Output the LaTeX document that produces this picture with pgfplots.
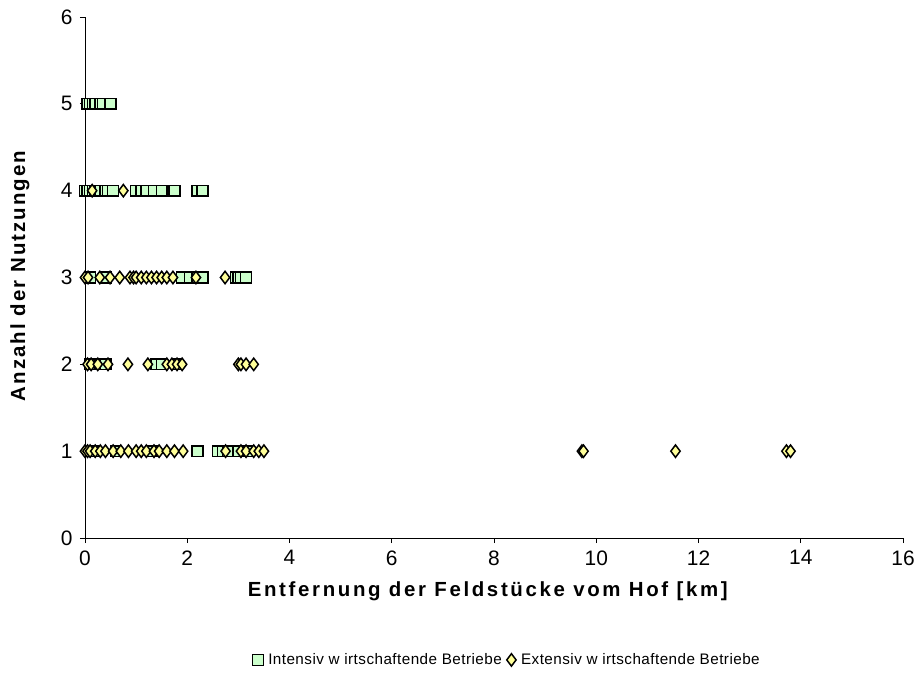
\documentclass[border=0pt]{standalone}
\usepackage{pgfplots}
\pgfplotsset{compat=1.18}
\usepackage{fontspec}
\setmainfont{Liberation Sans}
\definecolor{sqfill}{HTML}{CCFFCC}
\definecolor{dmfill}{HTML}{FFFF99}
\begin{document}
\begin{tikzpicture}
\path[use as bounding box] (-85bp,-152bp) rectangle (835bp,538bp);
\begin{axis}[
  scale only axis,
  width=818bp, height=521bp,
  xmin=0, xmax=16, ymin=0, ymax=6,
  xtick={0,2,...,16}, ytick={0,1,...,6},
  axis lines=left,
  axis line style={-, black, line width=0.8pt},
  tick style={black, line width=0.8pt},
  tick align=outside,
  major tick length=5bp,
  /pgf/number format/assume math mode=true,
  xticklabel style={font=\fontsize{21}{24}\selectfont, yshift=-4bp},
  yticklabel style={font=\fontsize{21}{24}\selectfont, xshift=-4bp},
  xlabel={\textbf{Entfernung der Feldstücke vom Hof [km]}},
  ylabel={\textbf{Anzahl der Nutzungen}},
  every axis x label/.style={at={(rel axis cs:0.494,-0.103)}, anchor=center,
    font=\fontsize{20.5}{23}\selectfont\addfontfeatures{LetterSpace=13}},
  every axis y label/.style={at={(rel axis cs:-0.0795,0.505)}, anchor=center, rotate=90,
    font=\fontsize{20.5}{23}\selectfont\addfontfeatures{LetterSpace=10}},
  legend style={at={(0.516,-0.234)}, anchor=center, draw=none,
    legend columns=2, font=\fontsize{15.3}{18}\selectfont\addfontfeatures{LetterSpace=3},
    /tikz/every odd column/.append style={column sep=3bp},
    /tikz/every even column/.append style={column sep=3bp}},
  clip=false,
]
\addplot[only marks, mark=square*, mark size=5.4bp, mark options={fill=sqfill, draw=black, line width=1.5pt}] coordinates {
(0.05,5)(0.1,5)(0.15,5)(0.2,5)(0.3,5)(0.35,5)(0.5,5)
(0.0,4)(0.05,4)(0.1,4)(0.15,4)(0.2,4)(0.25,4)(0.3,4)(0.4,4)(0.45,4)(0.55,4)(1.0,4)(1.1,4)(1.2,4)(1.35,4)(1.5,4)(1.75,4)(2.2,4)(2.3,4)
(0.1,3)(0.4,3)(1.9,3)(2.05,3)(2.2,3)(2.3,3)(2.95,3)(3.0,3)(3.05,3)(3.15,3)
(0.1,2)(0.3,2)(0.4,2)(1.4,2)(1.5,2)(1.8,2)
(0.2,1)(0.6,1)(1.3,1)(2.2,1)(2.6,1)(2.7,1)(2.8,1)(3.0,1)(3.2,1)
};
\addlegendentry{Intensiv w irtschaftende Betriebe}
\addplot[only marks, mark=diamond*, mark size=6.2bp, mark options={fill=dmfill, draw=black, line width=1.5pt}] coordinates {
(0.14,4)(0.75,4)
(0.0,3)(0.06,3)(0.29,3)(0.49,3)(0.68,3)(0.88,3)(0.95,3)(1.0,3)(1.1,3)(1.2,3)(1.3,3)(1.4,3)(1.5,3)(1.6,3)(1.72,3)(2.17,3)(2.74,3)
(0.05,2)(0.12,2)(0.25,2)(0.45,2)(0.84,2)(1.23,2)(1.6,2)(1.7,2)(1.8,2)(1.9,2)(3.0,2)(3.05,2)(3.15,2)(3.3,2)
(0.0,1)(0.05,1)(0.1,1)(0.2,1)(0.3,1)(0.4,1)(0.55,1)(0.7,1)(0.85,1)(1.0,1)(1.1,1)(1.2,1)(1.35,1)(1.45,1)(1.6,1)(1.75,1)(1.92,1)(2.75,1)(3.05,1)(3.15,1)(3.3,1)(3.4,1)(3.5,1)(9.72,1)(9.75,1)(11.55,1)(13.72,1)(13.8,1)
};
\addlegendentry{Extensiv w irtschaftende Betriebe}
\end{axis}
\end{tikzpicture}
\end{document}
